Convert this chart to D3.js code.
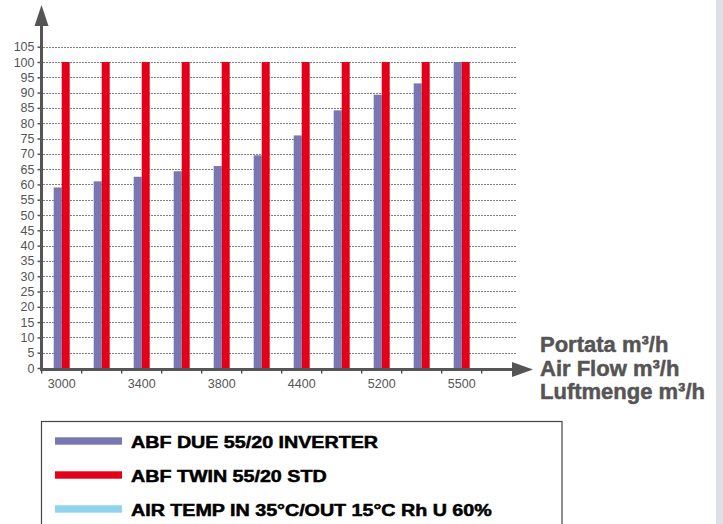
<!DOCTYPE html>
<html>
<head>
<meta charset="utf-8">
<script src="https://cdn.jsdelivr.net/npm/d3@7"></script>
<style>
  body { margin: 0; background: #fff; }
  svg { display: block; font-family: "Liberation Sans", Arial, sans-serif; }
</style>
</head>
<body>
<svg id="chart"></svg>
<script>
// data
let groups = d3.range(11);
let tickLabels = ["3000", "", "3400", "", "3800", "", "4400", "", "5200", "", "5500"];
let seriesNames = ["ABF DUE 55/20 INVERTER", "ABF TWIN 55/20 STD"];
let inverterValues = [59, 61, 62.5, 64.3, 66, 69.5, 76, 84.2, 89.3, 93, 100];
let stdValues = [100, 100, 100, 100, 100, 100, 100, 100, 100, 100, 100];
let legendLabels = ["ABF DUE 55/20 INVERTER", "ABF TWIN 55/20 STD", "AIR TEMP IN 35°C/OUT 15°C Rh U 60%"];
let legendColors = ["#7877b1", "#e2001a", "#8fd3ef"];
let axisTitle = ["Portata m³/h", "Air Flow m³/h", "Luftmenge m³/h"];
let yTicks = d3.range(0, 106, 5);

let width = 723;
let height = 524;
let axisColor = "#555";

let svg = d3.select("#chart")
    .attr("width", width)
    .attr("height", height);

// grey strip at the right edge
svg.append("rect")
    .attr("x", 716)
    .attr("y", 0)
    .attr("width", 7)
    .attr("height", height)
    .attr("fill", "#dde0e4");

let xScale = d3.scaleBand()
    .domain(groups)
    .range([41.7, 481.7]);

let subScale = d3.scaleBand()
    .domain(seriesNames)
    .range([12, 28]);

let yScale = d3.scaleLinear()
    .domain([0, 105])
    .range([368, 46.7]);

let colorScale = d3.scaleOrdinal()
    .domain(seriesNames)
    .range(legendColors.slice(0, 2));

// dotted grid
svg.append("g")
    .selectAll("line")
    .data(yTicks.filter(d => d > 0))
    .enter()
    .append("line")
    .attr("x1", 43)
    .attr("x2", 517)
    .attr("y1", d => Math.round(yScale(d)) + 0.5)
    .attr("y2", d => Math.round(yScale(d)) + 0.5)
    .attr("stroke", "#808080")
    .attr("stroke-width", 1)
    .attr("stroke-dasharray", "2,1");

// bars
let rows = groups.map(i => ({ i: i, values: [inverterValues[i], stdValues[i]] }));

svg.append("g")
    .selectAll("g")
    .data(rows)
    .enter()
    .append("g")
    .attr("transform", d => "translate(" + xScale(d.i) + ",0)")
    .selectAll("rect")
    .data(d => d.values.map((v, k) => ({ name: seriesNames[k], value: v })))
    .enter()
    .append("rect")
    .attr("x", d => subScale(d.name))
    .attr("width", subScale.bandwidth())
    .attr("y", d => yScale(d.value))
    .attr("height", d => yScale(0) - yScale(d.value) + 1)
    .attr("fill", d => colorScale(d.name));

// y axis
let yAxis = d3.axisLeft(yScale)
    .tickValues(yTicks)
    .tickSize(4)
    .tickPadding(3)
    .tickSizeOuter(0);

let yG = svg.append("g")
    .attr("transform", "translate(41.5,0)")
    .call(yAxis);
yG.select(".domain").remove();
yG.selectAll(".tick line").attr("stroke", axisColor).attr("stroke-width", 1.5);
yG.selectAll(".tick text")
    .attr("fill", axisColor)
    .style("font-size", "12.5px")
    .style("font-family", "Liberation Sans, Arial, sans-serif");

svg.append("line")
    .attr("x1", 41.5).attr("x2", 41.5)
    .attr("y1", 370.5).attr("y2", 24)
    .attr("stroke", axisColor)
    .attr("stroke-width", 3);
svg.append("path")
    .attr("d", "M41.5,5 L48.5,26 L34.5,26 Z")
    .attr("fill", axisColor);

// x axis
let xAxis = d3.axisBottom(xScale)
    .tickFormat(i => tickLabels[i])
    .tickSize(0)
    .tickPadding(10);

let xG = svg.append("g")
    .attr("transform", "translate(0,369)")
    .call(xAxis);
xG.select(".domain").remove();
xG.selectAll(".tick text")
    .attr("fill", axisColor)
    .style("font-size", "12.5px")
    .style("font-family", "Liberation Sans, Arial, sans-serif");

let edges = groups.map(i => xScale(i)).concat([xScale(groups[groups.length - 1]) + xScale.bandwidth()]);
svg.append("g")
    .selectAll("line")
    .data(edges)
    .enter()
    .append("line")
    .attr("x1", d => d)
    .attr("x2", d => d)
    .attr("y1", 369)
    .attr("y2", 373.5)
    .attr("stroke", axisColor)
    .attr("stroke-width", 1.5);

svg.append("line")
    .attr("x1", 40).attr("x2", 514)
    .attr("y1", 369.5).attr("y2", 369.5)
    .attr("stroke", axisColor)
    .attr("stroke-width", 3);
svg.append("path")
    .attr("d", "M533,369.5 L512,362 L512,377 Z")
    .attr("fill", axisColor);

// axis title
svg.append("text")
    .attr("x", 540)
    .attr("y", 352)
    .attr("fill", axisColor)
    .attr("stroke", axisColor)
    .attr("stroke-width", 0.5)
    .style("font-size", "22px")
    .style("font-weight", "bold")
    .selectAll("tspan")
    .data(axisTitle)
    .enter()
    .append("tspan")
    .attr("x", 540)
    .attr("dy", (d, i) => i === 0 ? 0 : 23.5)
    .text(d => d);

// legend
svg.append("rect")
    .attr("x", 41.5)
    .attr("y", 421.5)
    .attr("width", 520.5)
    .attr("height", 130)
    .attr("fill", "none")
    .attr("stroke", "#444")
    .attr("stroke-width", 1.2);

let legend = svg.append("g")
    .selectAll("g")
    .data(legendLabels)
    .enter()
    .append("g")
    .attr("transform", (d, i) => "translate(0," + (441 + i * 34) + ")");

legend.append("rect")
    .attr("x", 55)
    .attr("y", -3.7)
    .attr("width", 67)
    .attr("height", 7.4)
    .attr("fill", (d, i) => legendColors[i]);

legend.append("text")
    .attr("transform", "translate(131,7.3) scale(1.23,1)")
    .attr("fill", "#000")
    .attr("stroke", "#000")
    .attr("stroke-width", 0.5)
    .style("font-size", "16px")
    .style("font-weight", "bold")
    .text(d => d);
</script>
</body>
</html>
